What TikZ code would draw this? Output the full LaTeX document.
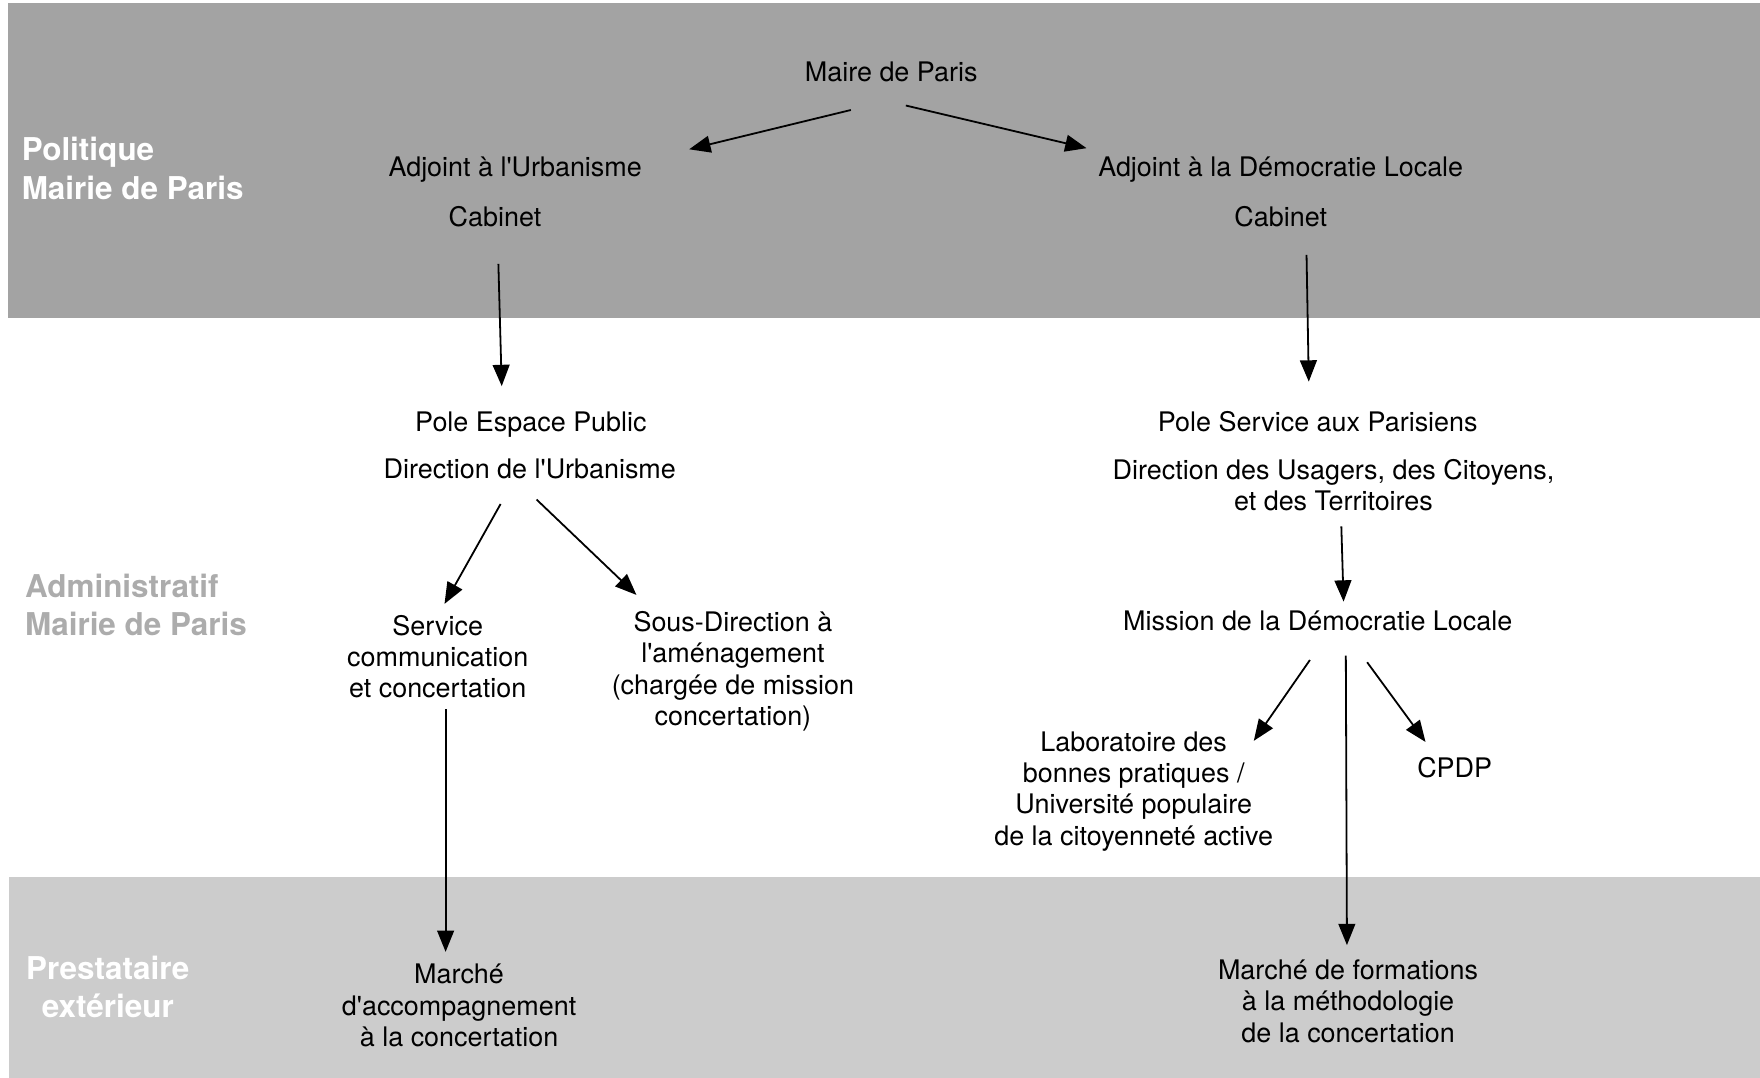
\documentclass[tikz,border=0pt]{standalone}
\usepackage{fontspec}
\setmainfont{TeX Gyre Heros}[Ligatures=TeXOff]
\usetikzlibrary{arrows.meta}

\definecolor{bandtop}{RGB}{163,163,163}
\definecolor{bandbot}{RGB}{204,204,204}
\definecolor{admgray}{RGB}{172,172,172}

\begin{document}
\begin{tikzpicture}[x=0.5pt,y=-0.5pt,
  box/.style={align=center,inner sep=0pt,font=\fontsize{12}{14}\selectfont},
  side/.style={inner sep=0pt,font=\fontsize{14}{17}\selectfont\bfseries},
  arr/.style={-{Triangle[length=9.5pt,width=7.5pt]},line width=0.8pt}]
\useasboundingbox (0,0) rectangle (1568,960);
\fill[bandtop] (7,3) rectangle (1568,283);
\fill[bandbot] (8,781) rectangle (1568,960);

% levels
\node[side,white,align=left,anchor=west] (pol) at (19,150) {Politique\\Mairie de Paris};
\node[side,admgray,align=left,anchor=west] (adm) at (22,539) {Administratif\\Mairie de Paris};
\node[side,white,align=center] (prest) at (96,879) {Prestataire\\extérieur};

% politique
\node[box] (maire) at (794,64) {Maire de Paris};
\node[box] (adjU) at (459,151) {Adjoint à l'Urbanisme};
\node[box] (cabU) at (441,193) {Cabinet};
\node[box] (adjD) at (1141,151) {Adjoint à la Démocratie Locale};
\node[box] (cabD) at (1141,193) {Cabinet};

% administratif
\node[box] (poleEP) at (473,378) {Pole Espace Public};
\node[box] (dirU) at (472,418) {Direction de l'Urbanisme};
\node[box] (poleSP) at (1174,376) {Pole Service aux Parisiens};
\node[box] (dirUCT) at (1188,432) {Direction des Usagers, des Citoyens,\\et des Territoires};
\node[box] (serv) at (390,585) {Service\\communication\\et concertation};
\node[box] (sousdir) at (653,598) {Sous-Direction à\\l'aménagement\\(chargée de mission\\concertation)};
\node[box] (mission) at (1174,553) {Mission de la Démocratie Locale};
\node[box] (labo) at (1010,705) {Laboratoire des\\bonnes pratiques /\\Université populaire\\de la citoyenneté active};
\node[box] (cpdp) at (1296,684) {CPDP};

% prestataire
\node[box] (accomp) at (409,896) {Marché\\d'accompagnement\\à la concertation};
\node[box] (form) at (1201,892) {Marché de formations\\à la méthodologie\\de la concertation};

\path[arr]
([shift={(-36,34)}]maire.center) edge ([shift={(155,-18)}]adjU.center)
([shift={(13,30)}]maire.center) edge ([shift={(-173,-19)}]adjD.center)

([shift={(3,42)}]cabU.center) edge ([shift={(-26,-34)}]poleEP.center)
([shift={(23,34)}]cabD.center) edge ([shift={(-8,-36)}]poleSP.center)

([shift={(-26,31)}]dirU.center) edge ([shift={(6,-47)}]serv.center)
([shift={(6,27)}]dirU.center) edge ([shift={(-86,-68)}]sousdir.center)
([shift={(7,47)}]serv.center) edge ([shift={(-12,-48)}]accomp.center)

([shift={(7,37)}]dirUCT.center) edge ([shift={(23,-17)}]mission.center)
([shift={(-7,35)}]mission.center) edge ([shift={(107,-45)}]labo.center)
([shift={(25,31)}]mission.center) edge ([shift={(-1,-50)}]form.center)
([shift={(44,37)}]mission.center) edge ([shift={(-26,-23)}]cpdp.center)
; %end path
\end{tikzpicture}
\end{document}
